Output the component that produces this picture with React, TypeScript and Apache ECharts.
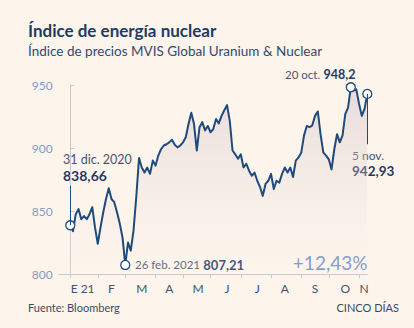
import React, { useEffect, useRef } from "react";
import * as echarts from "echarts";

// Sampled closing values (about every 2 trading days), 31 dic. 2020 -> 5 nov. 2021
const values: number[] = [
  838.66, 834, 847.5, 851.5, 843.5, 846, 843.5, 847.5, 853, 837,
  824, 837, 849, 859.5, 868, 859.5, 857, 849, 840, 829,
  807.21, 825, 818.5, 834.5, 861, 892, 884.5, 880.5, 884.5, 879.5,
  890, 886, 894, 899, 902, 903, 904.5, 906.5, 902.5, 900.5,
  902, 904.5, 908.5, 919, 928, 919, 898, 916.5, 920.5, 914,
  917.5, 912.5, 915, 923, 919.5, 925.5, 930, 934, 921.5, 898,
  895, 891.5, 895, 884.5, 887.5, 882, 878, 880.5, 874, 869,
  862, 871.5, 874, 879.5, 867.5, 874, 872.5, 879.5, 884.5, 880.5,
  884.5, 877, 890, 892.5, 896.5, 910, 917.5, 916.5, 918, 925.5,
  929, 911, 896.5, 894, 891, 883, 899, 911, 904.5, 910,
  927, 932, 948.2, 945.5, 946.5, 935, 925.5, 931, 942.93,
];

// Month boundaries (sample index) and month label positions
const monthTicks: number[] = [0, 10, 20, 31, 41, 51, 62, 73, 84, 94, 105];
const monthLabelPos: number[] = [4.5, 15, 26, 36, 46.5, 57, 68, 78, 89, 100, 106.8];
const monthLabels: string[] = ["E 21", "F", "M", "A", "M", "J", "J", "A", "S", "O", "N"];

const yTicks = { min: 800, max: 950, interval: 50 };

// Highlighted points: sample index + date label
const markerIdx: number[] = [0, 20, 102, 108];
const markerDates: string[] = ["31 dic. 2020", "26 feb. 2021", "20 oct.", "5 nov."];

const title = "Índice de energía nuclear";
const subtitle = "Índice de precios MVIS Global Uranium & Nuclear";
const source = "Fuente: Bloomberg";
const brand = "CINCO DÍAS";

const fmt = (v: number) => String(v).replace(".", ",");

export default function App() {
  const ref = useRef<HTMLDivElement>(null);

  useEffect(() => {
    if (!ref.current) return;
    const chart = echarts.init(ref.current, null, { renderer: "svg" });

    const BG = "#fdf4ec";
    const NAVY = "#1f3b63";
    const LINE = "#1f4a7c";
    const GREY = "#48566f";
    const AXIS = "#c6cad3";
    const LIGHTBLUE = "#7f9cc6";
    const FONT = "Lato, 'Open Sans', sans-serif";

    const first = values[0];
    const last = values[values.length - 1];
    const pct = ((last / first) - 1) * 100;
    const pctText = "+" + pct.toFixed(2).replace(".", ",") + "%";

    const pts = markerIdx.map((i) => [i, values[i]]);

    const T = (x: number, y: number, text: string, fill: string, font: string, align = "left") => ({
      type: "text", x, y,
      style: { text, fill, font, textAlign: align, textVerticalAlign: "middle", align, verticalAlign: "middle" },
    });

    const option: any = {
      animation: false,
      backgroundColor: BG,
      grid: { left: 58.7, right: 46.7, top: 85, bottom: 54, containLabel: false, outerBoundsMode: "none" },
      xAxis: {
        type: "value",
        min: -4.2,
        max: values.length - 1,
        axisLine: { show: true, lineStyle: { color: AXIS, width: 1 } },
        axisTick: { show: true, customValues: monthTicks, length: 4, lineStyle: { color: AXIS } },
        axisLabel: {
          customValues: monthLabelPos,
          formatter: (v: number) => {
            const k = monthLabelPos.findIndex((p) => Math.abs(p - v) < 1e-6);
            return k >= 0 ? monthLabels[k] : "";
          },
          color: "#44536f",
          fontSize: 12,
          fontFamily: FONT,
          margin: 8,
        },
        splitLine: { show: false },
      },
      yAxis: {
        type: "value",
        min: yTicks.min,
        max: yTicks.max,
        interval: yTicks.interval,
        axisLine: { show: true, lineStyle: { color: AXIS, width: 1 } },
        axisTick: { show: true, inside: true, length: 4, lineStyle: { color: AXIS } },
        axisLabel: { color: LIGHTBLUE, fontSize: 12, fontFamily: FONT, margin: 6 },
        splitLine: { show: false },
      },
      series: [
        {
          type: "line",
          data: values.map((v, i) => [i, v]),
          showSymbol: false,
          symbol: "none",
          lineStyle: { color: LINE, width: 2, join: "round" },
          areaStyle: {
            color: new echarts.graphic.LinearGradient(0, 0, 0, 1, [
              { offset: 0, color: "rgba(200,184,192,0.6)" },
              { offset: 1, color: "rgba(253,244,236,0.2)" },
            ]),
          },
          markLine: {
            silent: true,
            symbol: ["none", "none"],
            label: { show: false },
            lineStyle: { color: LINE, width: 1, type: "solid" },
            data: [
              [{ coord: [markerIdx[0], values[markerIdx[0]]] }, { coord: [markerIdx[0], 870] }],
              [{ coord: [markerIdx[3], values[markerIdx[3]]] }, { coord: [markerIdx[3], 903] }],
            ],
          },
          z: 2,
        },
        {
          type: "scatter",
          data: pts,
          symbol: "circle",
          symbolSize: 9,
          itemStyle: { color: "#ffffff", borderColor: LINE, borderWidth: 1.3, opacity: 1 },
          z: 3,
        },
      ],
      graphic: [
        T(28, 30, title, NAVY, `bold 17px ${FONT}`),
        T(28, 51, subtitle, "#34496c", `13.5px ${FONT}`),
        T(63, 159.5, markerDates[0], GREY, `12.5px ${FONT}`),
        T(63, 175.5, fmt(values[markerIdx[0]]), NAVY, `bold 14px ${FONT}`),
        {
          type: "text", x: 135, y: 264.5,
          style: {
            text: `{a|${markerDates[1]}} {b|${fmt(values[markerIdx[1]])}}`,
            textAlign: "left", textVerticalAlign: "middle", align: "left", verticalAlign: "middle",
            rich: {
              a: { fill: GREY, fontSize: 11.5, fontFamily: FONT },
              b: { fill: NAVY, fontSize: 13, fontWeight: "bold", fontFamily: FONT },
            },
          },
        },
        {
          type: "text", x: 285, y: 74,
          style: {
            text: `{a|${markerDates[2]}} {b|${fmt(values[markerIdx[2]])}}`,
            textAlign: "left", textVerticalAlign: "middle", align: "left", verticalAlign: "middle",
            rich: {
              a: { fill: GREY, fontSize: 11.5, fontFamily: FONT },
              b: { fill: NAVY, fontSize: 12.5, fontWeight: "bold", fontFamily: FONT },
            },
          },
        },
        T(352, 155.5, markerDates[3], GREY, `12px ${FONT}`),
        T(352, 171, fmt(values[markerIdx[3]]), NAVY, `bold 13.5px ${FONT}`),
        T(367.5, 262, pctText, "#6b8fc8", `19px ${FONT}`, "right"),
        T(28, 307, source, "#3a4a66", `11px ${FONT}`),
        T(399, 307, brand, "#3a4a66", `11px ${FONT}`, "right"),
      ],
    };

    chart.setOption(option);
    return () => chart.dispose();
  }, []);

  return (
    <div
      ref={ref}
      style={{ position: "fixed", left: 0, top: 0, width: 414, height: 328, background: "#fdf4ec" }}
    />
  );
}
